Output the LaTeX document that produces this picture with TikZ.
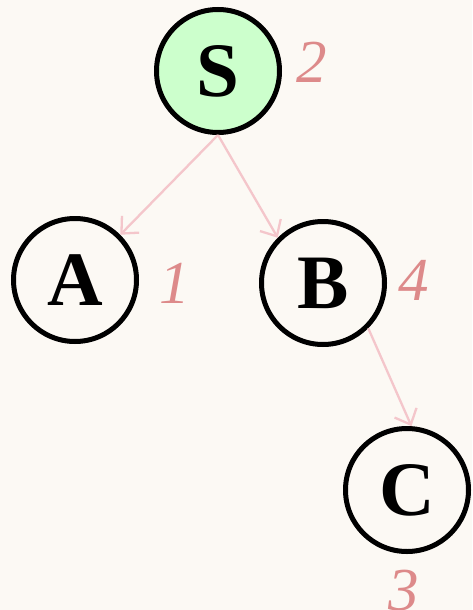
\documentclass[tikz,border=0pt]{standalone}
\usepackage{fontspec}
\setmainfont{Liberation Serif}
\usetikzlibrary{arrows.meta}
\definecolor{bgc}{HTML}{FCF9F4}
\definecolor{greenfill}{HTML}{CCFFCC}
\definecolor{lblc}{HTML}{DD8A8A}
\definecolor{edgec}{HTML}{F4C6CB}
\tikzset{
  vert/.style={circle, draw=black, line width=5pt, minimum size=123pt, inner sep=0pt,
    font=\fontsize{77}{77}\selectfont\bfseries, fill=bgc},
  ordlbl/.style={text=lblc, font=\fontsize{61}{61}\selectfont\itshape, inner sep=0pt},
  edge/.style={draw=edgec, line width=2.3pt, -{Straight Barb[length=13pt,width=24pt,line width=2.3pt]}}
}
\begin{document}
\begin{tikzpicture}[x=1pt,y=-1pt]
\fill[bgc] (0,0) rectangle (472,610);
\useasboundingbox (0,0) rectangle (472,610);
\node[vert, fill=greenfill] (S) at (218,71) {S};
\node[vert] (A) at (75,280) {A};
\node[vert] (B) at (323,283) {B};
\node[vert] (C) at (407,490) {C};
\node[ordlbl] (l2) at (312,62) {2};
\node[ordlbl] (l1) at (175,283) {1};
\node[ordlbl] (l4) at (414,280) {4};
\node[ordlbl] (l3) at (404,591) {3};
\draw[edge] (S.south) -- (A.north east);
\draw[edge] (S.south) -- (B.north west);
\draw[edge] (B.south east) -- (C.86);
\end{tikzpicture}
\end{document}
